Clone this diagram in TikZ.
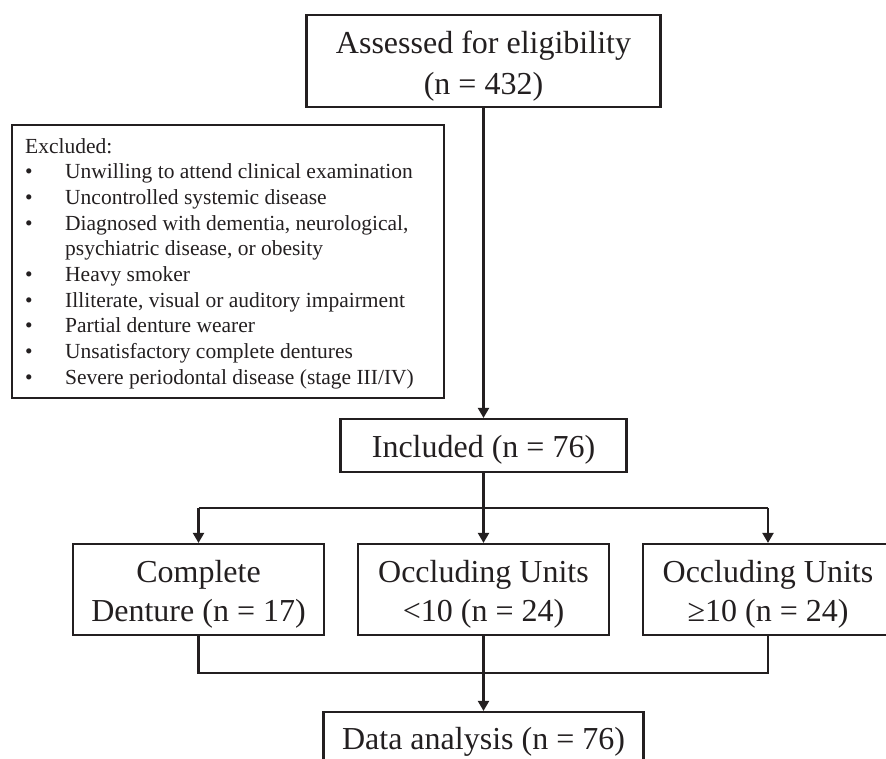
\documentclass[tikz,border=0pt]{standalone}
\usepackage{fontspec}
\setmainfont{Liberation Serif}
\usetikzlibrary{arrows.meta}
\definecolor{ink}{HTML}{231F20}
\begin{document}
\begin{tikzpicture}[x=1pt,y=-1pt,
  box/.style={draw=ink, line width=2.2pt, rectangle, inner sep=0pt},
  big/.style={font=\fontsize{32}{40}\selectfont, text=ink, inner sep=0pt, anchor=base},
  small/.style={font=\fontsize{21.5}{25}\selectfont, text=ink, inner sep=0pt, anchor=base west},
  conn/.style={draw=ink, line width=2.2pt},
  arr/.style={conn, -{Triangle[length=10pt,width=11pt]}}]
\useasboundingbox (0,0) rectangle (886,758);
\clip (0,0) rectangle (886,758);

% top box
\node[box, minimum width=354pt, minimum height=92pt] (assess) at (483.5,61) {};
\node[big] (assessA) at (483.5,53) {Assessed for eligibility};
\node[big] (assessB) at (483.5,94) {(n = 432)};

% excluded box
\node[box, minimum width=432pt, minimum height=273pt] (excl) at (228,261.5) {};
\node[small] (ex0) at (25,153) {Excluded:};
\node[small] (b1) at (25,178.7) {•};
\node[small] (ex1) at (65,178.7) {Unwilling to attend clinical examination};
\node[small] (b2) at (25,204.3) {•};
\node[small] (ex2) at (65,204.3) {Uncontrolled systemic disease};
\node[small] (b3) at (25,230) {•};
\node[small] (ex3) at (65,230) {Diagnosed with dementia, neurological,};
\node[small] (ex3b) at (65,255.7) {psychiatric disease, or obesity};
\node[small] (b4) at (25,281.3) {•};
\node[small] (ex4) at (65,281.3) {Heavy smoker};
\node[small] (b5) at (25,307) {•};
\node[small] (ex5) at (65,307) {Illiterate, visual or auditory impairment};
\node[small] (b6) at (25,332.7) {•};
\node[small] (ex6) at (65,332.7) {Partial denture wearer};
\node[small] (b7) at (25,358.3) {•};
\node[small] (ex7) at (65,358.3) {Unsatisfactory complete dentures};
\node[small] (b8) at (25,384) {•};
\node[small] (ex8) at (65,384) {Severe periodontal disease (stage III/IV)};

% included
\node[box, minimum width=286pt, minimum height=53pt] (incl) at (483.5,445.5) {};
\node[big] (inclT) at (483.5,457) {Included (n = 76)};

% groups
\node[box, minimum width=251pt, minimum height=91pt] (left) at (198.5,589.5) {};
\node[big] (leftA) at (198.5,582) {Complete};
\node[big] (leftB) at (198.5,621) {Denture (n = 17)};
\node[box, minimum width=251pt, minimum height=91pt] (mid) at (483.5,589.5) {};
\node[big] (midA) at (483.5,582) {Occluding Units};
\node[big] (midB) at (483.5,621) {<10 (n = 24)};
\node[box, minimum width=250pt, minimum height=91pt] (right) at (768,589.5) {};
\node[big] (rightA) at (768,582) {Occluding Units};
\node[big] (rightB) at (768,621) {≥10 (n = 24)};

% data analysis
\node[box, minimum width=320pt, minimum height=62pt] (data) at (483.5,743) {};
\node[big] (dataT) at (483.5,749) {Data analysis (n = 76)};

% connectors
\coordinate (split) at (483.5,508);
\coordinate (merge) at (483.5,673);
\draw[arr] (assess.south) -- (incl.north);
\draw[arr] (incl.south) -- (mid.north);
\draw[conn] (split -| left.north) -- (split -| right.north);
\draw[arr] (split -| left.north) -- (left.north);
\draw[arr] (split -| right.north) -- (right.north);
\draw[conn] (left.south) -- (merge -| left.south) -- (merge -| right.south) -- (right.south);
\draw[arr] (mid.south) -- (data.north);
\end{tikzpicture}
\end{document}
